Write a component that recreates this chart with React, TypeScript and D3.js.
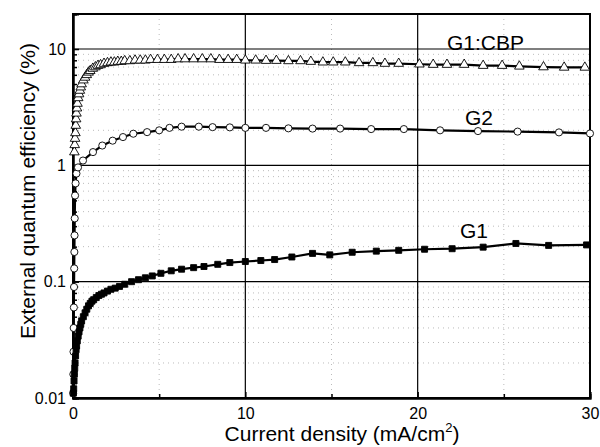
import { useRef, useEffect } from 'react';
import * as d3 from 'd3';

// G1:CBP (open triangles)
const cbpX = [0.08, 0.1, 0.12, 0.14, 0.16, 0.18, 0.2, 0.23, 0.26, 0.3, 0.35, 0.4, 0.45, 0.5, 0.6, 0.7, 0.8, 0.9, 1.0, 1.15, 1.3, 1.45, 1.6, 1.8, 2.0, 2.2, 2.4, 2.6, 2.8, 3.0, 3.3, 3.6, 3.9, 4.2, 4.5, 4.9, 5.3, 5.7, 6.1, 6.5, 7.0, 7.5, 8.0, 8.5, 9.0, 9.5, 10.0, 10.6, 11.2, 11.8, 12.5, 13.2, 13.8, 14.5, 15.1, 15.8, 16.6, 17.4, 18.1, 18.9, 20.1, 20.9, 21.7, 22.7, 23.8, 24.9, 25.9, 27.3, 28.5, 29.7];
const cbpY = [1.3, 1.5, 1.7, 1.9, 2.2, 2.5, 2.8, 3.1, 3.4, 3.8, 4.1, 4.4, 4.7, 5.0, 5.4, 5.7, 6.0, 6.3, 6.5, 6.8, 7.0, 7.2, 7.3, 7.5, 7.6, 7.7, 7.7, 7.8, 7.8, 7.9, 7.9, 8.0, 8.0, 8.0, 8.1, 8.1, 8.1, 8.1, 8.2, 8.2, 8.2, 8.2, 8.2, 8.1, 8.1, 8.1, 8.0, 8.0, 7.95, 7.95, 7.9, 7.9, 7.8, 7.7, 7.7, 7.7, 7.6, 7.6, 7.5, 7.5, 7.4, 7.35, 7.35, 7.35, 7.2, 7.2, 7.1, 7.0, 6.95, 6.95];

// G2 (open circles)
const g2X = [0.01, 0.02, 0.03, 0.04, 0.05, 0.06, 0.07, 0.08, 0.09, 0.1, 0.12, 0.15, 0.2, 0.29, 0.58, 1.16, 1.7, 2.3, 2.9, 3.5, 4.3, 5.0, 5.6, 6.3, 7.3, 8.1, 9.1, 10.0, 11.2, 12.5, 13.9, 15.5, 17.3, 19.2, 21.3, 23.5, 25.8, 28.2, 30];
const g2Y = [0.011, 0.016, 0.025, 0.04, 0.06, 0.09, 0.13, 0.18, 0.25, 0.35, 0.55, 0.7, 0.85, 0.96, 1.1, 1.3, 1.48, 1.63, 1.75, 1.87, 1.93, 2.0, 2.1, 2.15, 2.15, 2.13, 2.12, 2.1, 2.1, 2.08, 2.07, 2.07, 2.05, 2.05, 2.0, 1.97, 1.95, 1.92, 1.88];

// G1 (filled squares)
const g1X = [0.02, 0.04, 0.06, 0.08, 0.1, 0.12, 0.15, 0.18, 0.21, 0.25, 0.3, 0.35, 0.4, 0.45, 0.5, 0.6, 0.7, 0.8, 0.9, 1.0, 1.1, 1.2, 1.35, 1.5, 1.65, 1.8, 2.0, 2.2, 2.45, 2.7, 3.0, 3.4, 3.8, 4.2, 4.6, 5.1, 5.7, 6.3, 7.0, 7.6, 8.4, 9.1, 10.0, 10.9, 11.7, 12.7, 13.9, 14.9, 16.2, 17.6, 18.9, 20.4, 22.0, 23.8, 25.7, 27.6, 29.8];
const g1Y = [0.011, 0.012, 0.014, 0.016, 0.018, 0.02, 0.023, 0.026, 0.028, 0.031, 0.034, 0.037, 0.04, 0.043, 0.046, 0.05, 0.054, 0.058, 0.062, 0.065, 0.068, 0.07, 0.073, 0.076, 0.078, 0.08, 0.083, 0.086, 0.088, 0.091, 0.095, 0.1, 0.104, 0.108, 0.112, 0.118, 0.124, 0.128, 0.132, 0.135, 0.141, 0.146, 0.149, 0.152, 0.155, 0.163, 0.175, 0.17, 0.179, 0.183, 0.186, 0.19, 0.192, 0.198, 0.213, 0.205, 0.207];

const xTicks = [0, 10, 20, 30];
const xMinor = [5, 15, 25];
const yTicks = [0.01, 0.1, 1, 10];
const yTickLabels = ['0.01', '0.1', '1', '10'];

const font = 'Liberation Sans, Arial, Helvetica, sans-serif';

export default function App() {
  const svgRef = useRef<SVGSVGElement>(null);

  useEffect(() => {
    if (!svgRef.current) return;
    const svg = d3.select(svgRef.current);
    svg.selectAll('*').remove();

    const left = 73, right = 590, top = 14, bottom = 398;
    const x = d3.scaleLinear().domain([0, 30]).range([left, right]);
    const y = d3.scaleLog().domain([0.01, 20]).range([bottom, top]);

    const yMinor: number[] = [];
    for (const dec of [0.01, 0.1, 1, 10]) {
      for (let k = 2; k <= 9; k++) {
        const v = dec * k;
        if (v <= 20) yMinor.push(v);
      }
    }

    // dotted minor grid
    const grid = svg.append('g');
    grid.selectAll('.ym')
      .data(yMinor)
      .join('line')
      .attr('x1', left).attr('x2', right)
      .attr('y1', (d) => y(d)).attr('y2', (d) => y(d))
      .attr('stroke', '#aaa').attr('stroke-width', 0.8).attr('stroke-dasharray', '1,4');
    grid.selectAll('.xm')
      .data(xMinor)
      .join('line')
      .attr('x1', (d) => x(d)).attr('x2', (d) => x(d))
      .attr('y1', top).attr('y2', bottom)
      .attr('stroke', '#aaa').attr('stroke-width', 0.8).attr('stroke-dasharray', '1,4');

    // solid major grid
    grid.selectAll('.yM')
      .data(yTicks.slice(1))
      .join('line')
      .attr('x1', left).attr('x2', right)
      .attr('y1', (d) => y(d)).attr('y2', (d) => y(d))
      .attr('stroke', '#000').attr('stroke-width', 1.2);
    grid.selectAll('.xM')
      .data([10, 20])
      .join('line')
      .attr('x1', (d) => x(d)).attr('x2', (d) => x(d))
      .attr('y1', top).attr('y2', bottom)
      .attr('stroke', '#000').attr('stroke-width', 1.2);

    // axes with inward ticks
    const xAxis = svg.append('g').attr('transform', `translate(0,${bottom})`)
      .call(d3.axisBottom(x).tickValues(xTicks).tickSize(-6).tickPadding(10).tickFormat((d) => String(d)));
    xAxis.append('g').call(d3.axisBottom(x).tickValues(xMinor).tickSize(-4).tickFormat(() => ''));
    const yAxis = svg.append('g').attr('transform', `translate(${left},0)`)
      .call(d3.axisLeft(y).tickValues(yTicks).tickSize(-6).tickPadding(7).tickFormat((_, i) => yTickLabels[i]));
    yAxis.append('g').call(d3.axisLeft(y).tickValues(yMinor).tickSize(-4).tickFormat(() => ''));

    svg.selectAll('.domain').attr('stroke', '#000').attr('stroke-width', 2);
    svg.selectAll('.tick line').attr('stroke', '#000').attr('stroke-width', 1.5);
    svg.selectAll('.tick text').attr('font-family', font).attr('font-size', 16).attr('fill', '#000');

    // top and right frame
    svg.append('rect')
      .attr('x', left).attr('y', top)
      .attr('width', right - left).attr('height', bottom - top)
      .attr('fill', 'none').attr('stroke', '#000').attr('stroke-width', 2);

    const line = d3.line<[number, number]>().x((d) => x(d[0])).y((d) => y(d[1]));
    const series = [
      { xs: cbpX, ys: cbpY, symbol: d3.symbolTriangle, size: 40, fill: '#fff' },
      { xs: g2X, ys: g2Y, symbol: d3.symbolCircle, size: 40, fill: '#fff' },
      { xs: g1X, ys: g1Y, symbol: d3.symbolSquare, size: 36, fill: '#000' },
    ];

    const plot = svg.append('g');
    for (const s of series) {
      const pts = s.xs.map((v, i) => [v, s.ys[i]] as [number, number]);
      plot.append('path')
        .attr('d', line(pts))
        .attr('fill', 'none').attr('stroke', '#000').attr('stroke-width', 2.2);
      plot.selectAll(null)
        .data(pts)
        .join('path')
        .attr('transform', (d) => `translate(${x(d[0])},${y(d[1])})`)
        .attr('d', d3.symbol().type(s.symbol).size(s.size)())
        .attr('fill', s.fill).attr('stroke', '#000').attr('stroke-width', 0.9);
    }

    // series labels
    const labels = [
      { text: 'G1:CBP', x: 447, y: 50 },
      { text: 'G2', x: 465, y: 125 },
      { text: 'G1', x: 460, y: 238 },
    ];
    svg.selectAll('.lbl')
      .data(labels)
      .join('text')
      .attr('x', (d) => d.x).attr('y', (d) => d.y)
      .attr('font-family', font).attr('font-size', 21)
      .text((d) => d.text);

    // axis titles
    const xt = svg.append('text')
      .attr('x', 342).attr('y', 441)
      .attr('text-anchor', 'middle')
      .attr('font-family', font).attr('font-size', 21);
    xt.append('tspan').text('Current density (mA/cm');
    xt.append('tspan').attr('font-size', 13).attr('dy', -9).text('2');
    xt.append('tspan').attr('dy', 9).text(')');

    svg.append('text')
      .attr('transform', 'translate(35,191) rotate(-90)')
      .attr('text-anchor', 'middle')
      .attr('font-family', font).attr('font-size', 21)
      .text('External quantum efficiency (%)');
  }, []);

  return (
    <svg
      ref={svgRef}
      width={600}
      height={447}
      style={{ position: 'absolute', left: 0, top: 0, background: '#fff' }}
    />
  );
}
